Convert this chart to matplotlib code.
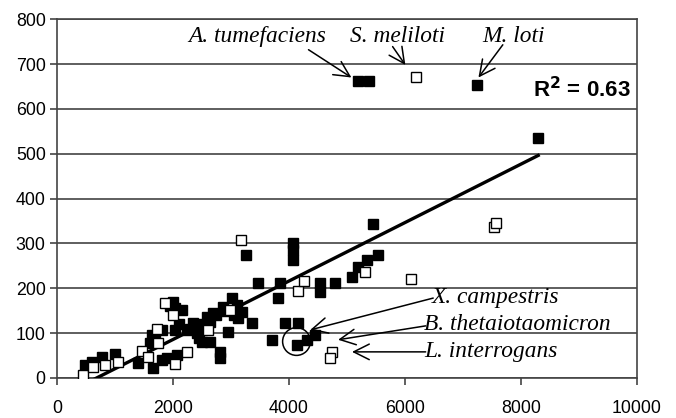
import numpy as np
import matplotlib
matplotlib.use('Agg')
import matplotlib.pyplot as plt

# filled squares
fx = [484, 600, 775, 1000, 1400, 1600, 1660, 1640, 1700, 1810, 1810, 1900, 2000,
      2040, 2160, 2040, 2070, 2240, 2350, 2420, 2500, 2590, 2640, 2700, 2820, 2820,
      2870, 3020, 3100, 3190, 3130, 2950, 3370, 3470, 3710, 3820, 3850, 3940, 4160,
      4145, 4320, 4460, 3264, 4076, 4076, 4076, 4540, 4540, 4800, 5090, 5200, 5340,
      5460, 5545, 5190, 5380, 7240, 8300,
      2500, 2300, 2650, 2750, 2900, 3050, 2450, 1950, 2100]
fy = [29, 36, 47, 54, 33, 78, 22, 95, 90, 40, 107, 45, 170,
      156, 152, 107, 51, 107, 123, 100, 80, 136, 80, 145, 58, 45,
      158, 178, 163, 147, 134, 102, 123, 212, 85, 178, 212, 123, 123,
      74, 85, 96, 275, 300, 285, 263, 212, 192, 212, 225, 248, 263,
      343, 275, 662, 662, 654, 535,
      120, 110, 125, 140, 150, 140, 90, 160, 120]

# open squares
ox = [450, 620, 830, 1050, 1470, 1570, 1720, 1745, 1865, 2000, 2040, 2240, 2610,
      2990, 3178, 4160, 4266, 5320, 6115, 7530, 7580, 4750, 4710, 6200]
oy = [7, 24, 29, 36, 60, 47, 109, 78, 167, 140, 31, 58, 107,
      152, 308, 194, 217, 237, 221, 337, 346, 58, 45, 672]

# linear trend as shown in the chart
trend_slope = 0.0652
trend_icpt = -45.0
r2_text = 'R$^\\mathbf{2}$ = 0.63'

# labels: (text, text x, text y, arrow start, arrow tip)
top_labels = [('A. tumefaciens', 3450, 762, (4340, 732), (5080, 670)),
              ('S. meliloti', 5870, 762, (5790, 739), (6010, 698)),
              ('M. loti', 7870, 762, (7690, 743), (7270, 670))]
side_labels = [('X. campestris', 6470, 180, (6490, 178), (4370, 107)),
               ('B. thetaiotaomicron', 6330, 118, (6360, 116), (4850, 85)),
               ('L. interrogans', 6330, 58, (6360, 58), (5090, 58))]
circle_xy = (4130, 82)

plt.rcParams['font.family'] = ['Liberation Sans', 'DejaVu Sans']
fig = plt.figure(figsize=(6.76, 4.18), dpi=100)
ax = fig.add_axes([0.084, 0.096, 0.858, 0.858])

ax.set_xlim(0, 10000)
ax.set_ylim(0, 800)
ax.set_xticks(range(0, 10001, 2000))
ax.set_yticks(range(0, 801, 100))
ax.grid(axis='y', color='#333333', lw=1.1)
ax.set_axisbelow(True)
for s in ['left', 'bottom', 'right', 'top']:
    ax.spines[s].set_color('#444444')
    ax.spines[s].set_linewidth(1.2)
ax.tick_params(axis='both', direction='out', length=5, width=1.2, color='#444444',
               labelsize=12.8)
ax.tick_params(axis='x', pad=11)
ax.tick_params(axis='y', pad=3)

# trend line
xs = np.array([min(fx + ox), max(fx + ox)])
ax.plot(xs, trend_icpt + trend_slope * xs, color='black', lw=2.4, zorder=3)

ax.plot(fx, fy, 's', color='black', ms=7.3, zorder=4)
ax.plot(ox, oy, 's', mfc='white', mec='black', mew=1, ms=6.5, zorder=4)

serif = dict(family=['Liberation Serif', 'DejaVu Serif'], style='italic', fontsize=16.8)
arrow = dict(arrowstyle='->', color='black', lw=1.1, mutation_scale=28,
             shrinkA=0, shrinkB=0)

for txt, tx, ty, start, tip in top_labels:
    ax.text(tx, ty, txt, ha='center', va='center', **serif)
    ax.annotate('', xy=tip, xytext=start, arrowprops=arrow)
for txt, tx, ty, start, tip in side_labels:
    ax.text(tx, ty, txt, ha='left', va='center', **serif)
    ax.annotate('', xy=tip, xytext=start, arrowprops=arrow)

ax.plot(*circle_xy, 'o', ms=20, mfc='none', mec='black', mew=1.1, zorder=5)

ax.text(9900, 643, r2_text, ha='right', va='center', fontsize=16, fontweight='bold')

fig.savefig('out.png', dpi=100)
